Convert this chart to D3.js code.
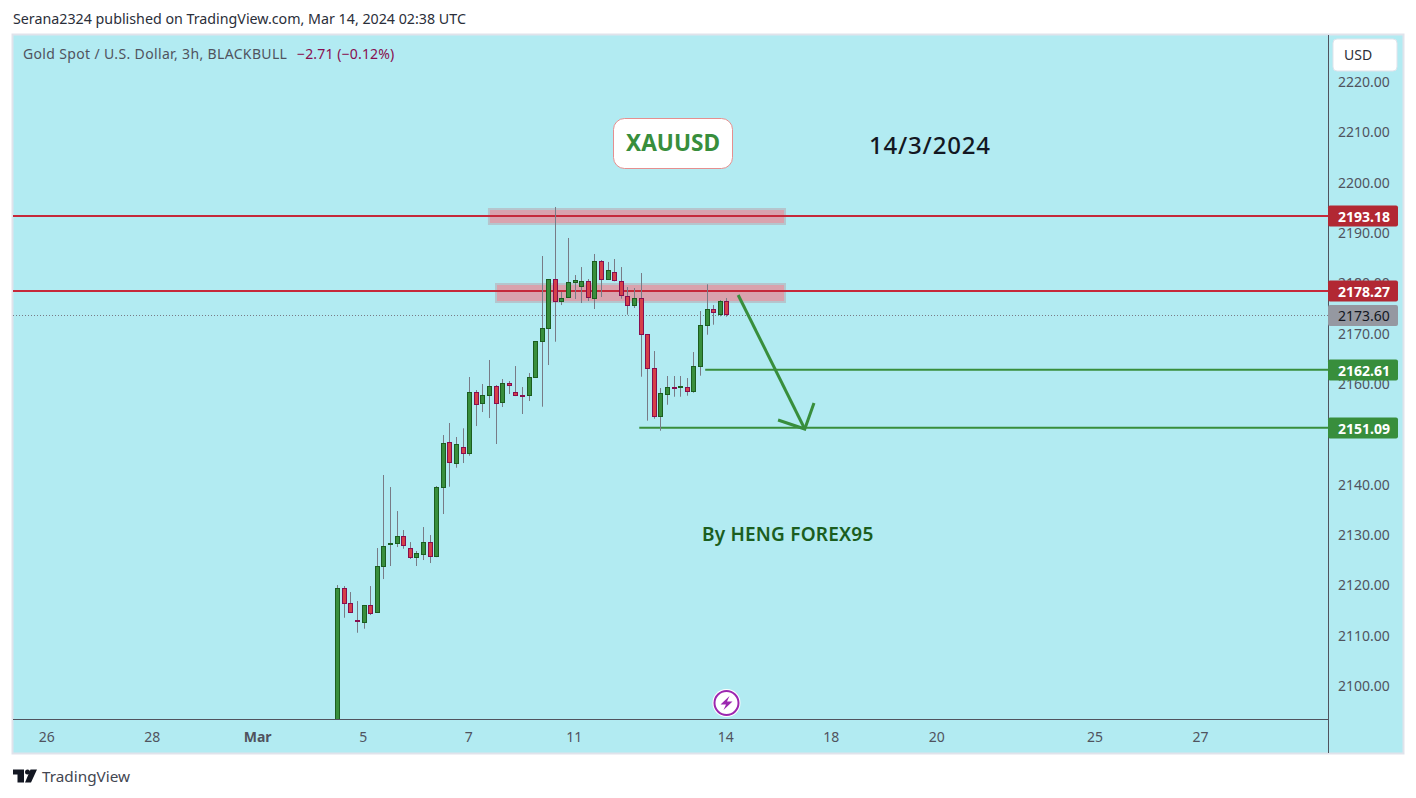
<!DOCTYPE html>
<html><head><meta charset="utf-8">
<script src="https://cdn.jsdelivr.net/npm/d3@7"></script>
<style>html,body{margin:0;padding:0;background:#fff;overflow:hidden}svg{display:block}text{font-family:"Noto Sans",sans-serif}</style>
</head><body><svg id="c" width="1416" height="798"></svg>
<script>
const opens=[2088,2119.2,2116.22,2112.85,2112.37,2115.83,2114.36,2123.5,2127.87,2128.07,2129.54,2127.15,2125.29,2125.88,2128.34,2125.48,2139.19,2148.21,2143.96,2147.22,2145.95,2158.15,2155.88,2157.47,2159.34,2156.08,2159.94,2158.15,2157.61,2157.47,2161.05,2168.2,2170.78,2180.6,2176.15,2176.94,2179.92,2179.13,2180.2,2176.75,2184.18,2180.56,2181.99,2180.2,2177.22,2175.24,2176.82,2169.67,2162.92,2153.3,2157.67,2159.14,2158.94,2159.14,2158.27,2163.23,2171.38,2174.64,2173.45,2176.23];
const closes=[2119.2,2116.15,2114.36,2112.57,2115.83,2114.16,2123.58,2127.55,2128.15,2129.54,2127.67,2125.29,2126.16,2128.34,2125.48,2139.27,2148.01,2144.16,2147.82,2145.95,2158.15,2155.68,2157.55,2159.34,2155.88,2159.94,2159.46,2157.47,2157.47,2161.13,2168.28,2170.86,2180.6,2176.15,2176.82,2180,2180.4,2180.2,2176.94,2184.18,2180.52,2182.39,2180.2,2177.22,2175.24,2176.82,2169.59,2162.84,2153.3,2157.95,2159.14,2159.06,2159.34,2158.27,2163.31,2171.46,2174.64,2173.96,2176.23,2173.6];
const highs=[2119.86,2119.66,2118.47,2116.68,2115.9,2119.66,2127.21,2141.72,2139.33,2134.56,2130.79,2128.4,2126.62,2131.38,2129.79,2139.53,2149.66,2152.05,2149.27,2151,2161.19,2158.6,2159.8,2164.57,2159.6,2160.79,2160.39,2163.37,2159.2,2161.98,2168.3,2185.23,2180.6,2194.97,2178.08,2188.81,2181.45,2183.04,2180.66,2185.63,2184.43,2184.04,2184.63,2183.04,2179.07,2178.87,2181.85,2169.67,2166.35,2159,2161.39,2161.39,2161.39,2160.99,2166.15,2174.3,2179.61,2175.49,2176.49,2176.88];
const lows=[2086,2113.36,2114.3,2110.38,2111.18,2113.9,2114.3,2121.05,2123.64,2127.41,2127.07,2125.03,2123.64,2124.83,2124.23,2125.4,2133.97,2139.39,2143.17,2144.1,2145.55,2151.45,2154.23,2153.04,2147.88,2155.23,2157.81,2157.4,2153.84,2156.42,2161,2155.29,2163.57,2168.2,2175.49,2176.9,2176.69,2175.89,2176.29,2174.7,2177.08,2180.5,2180.2,2176.75,2173.57,2174.9,2161.25,2152.51,2152.9,2150.52,2155.68,2157.27,2157.27,2157.47,2158.07,2161.45,2169.59,2171.58,2173.25,2173.17];
const priceTicks=[2100,2110,2120,2130,2140,2160,2170,2180,2190,2200,2210,2220];
const dateTickBars=[-44,-28,-12,4,20,36,59,75,91,115,131];
const dateTickLabels=["26","28","Mar","5","7","11","14","18","20","25","27"];
const tagPrices=[2193.18,2178.27,2173.60,2162.61,2151.09];
const tagKinds=["red","red","last","green","green"];
const zoneBarsFrom=[23,24.07], zoneBarsTo=[67.9,67.9], zonePriceTop=[2194.57,2179.67], zonePriceBottom=[2191.59,2176.09];
const lineBarsFrom=[-49.2,-49.2,55.8,45.8];
const linePrices=[2193.18,2178.27,2162.61,2151.09];
const lineKinds=["red","red","green","green"];
const arrowBars=[60.8,70.9], arrowPrices=[2177.48,2150.86];
const headBars=[66.85,70.9,72.3], headPrices=[2152.64,2150.86,2156.02];

const C={bg:"#b2ebf2",green:"#388e3c",greenDark:"#1b5e20",red:"#d63f48",redDark:"#880e4f",wick:"#787b86",lineRed:"#c5293a",tagRed:"#b22833",axis:"#50535e",txt:"#50535e"};
const L=13,R=1403,T=35,B=753,AX=1328,PB=719;
const svg=d3.select("#c");
const x=d3.scaleLinear().domain([0,59]).range([337.3,726.3]);
const y=d3.scaleLinear().domain([2100,2220]).range([685,81]);

svg.append("rect").attr("x",L-.5).attr("y",T-.5).attr("width",R-L+1).attr("height",B-T+1).attr("fill",C.bg).attr("stroke","#e0e3eb").attr("stroke-width",2);
svg.append("text").attr("x",13).attr("y",24).attr("font-size",14.25).attr("fill","#2a2e39").text("Serana2324 published on TradingView.com, Mar 14, 2024 02:38 UTC");

const defs=svg.append("defs");
defs.append("clipPath").attr("id","pane").append("rect").attr("x",L).attr("y",T).attr("width",AX-L).attr("height",PB-T);
const pane=svg.append("g").attr("clip-path","url(#pane)");

// zones
zoneBarsFrom.forEach((b,i)=>{
  pane.append("rect").attr("x",x(b)).attr("y",y(zonePriceTop[i])).attr("width",x(zoneBarsTo[i])-x(b)).attr("height",y(zonePriceBottom[i])-y(zonePriceTop[i]))
   .attr("fill","#d9a2ad").attr("stroke","#b5c5cd").attr("stroke-width",2);
});
// last price dotted
pane.append("line").attr("x1",L).attr("x2",AX).attr("y1",Math.round(y(2173.6))+.5).attr("y2",Math.round(y(2173.6))+.5).attr("stroke","#787b86").attr("stroke-width",1).attr("stroke-dasharray","1 2");
// lines
linePrices.forEach((p,i)=>{
  pane.append("line").attr("x1",x(lineBarsFrom[i])).attr("x2",AX).attr("y1",y(p)).attr("y2",y(p)).attr("stroke",lineKinds[i]==="red"?C.lineRed:C.green).attr("stroke-width",2);
});
// candles
const idx=d3.range(opens.length);
pane.selectAll("line.w").data(idx).join("line").attr("class","w")
 .attr("x1",i=>Math.round(x(i))+.5).attr("x2",i=>Math.round(x(i))+.5)
 .attr("y1",i=>y(highs[i])).attr("y2",i=>y(lows[i])).attr("stroke",C.wick).attr("stroke-width",1);
pane.selectAll("rect.b").data(idx).join("rect").attr("class","b")
 .attr("x",i=>Math.round(x(i))-1.5).attr("width",4)
 .attr("y",i=>Math.round(y(Math.max(opens[i],closes[i])))+.5)
 .attr("height",i=>Math.max(1,Math.round(y(Math.min(opens[i],closes[i])))-Math.round(y(Math.max(opens[i],closes[i])))-1))
 .attr("fill",i=>closes[i]>=opens[i]?C.green:C.red)
 .attr("stroke",i=>closes[i]>=opens[i]?C.greenDark:C.redDark).attr("stroke-width",1);
// arrow
const ln=d3.line().x(d=>d[0]).y(d=>d[1]);
pane.append("path").attr("d",ln(arrowBars.map((b,i)=>[x(b),y(arrowPrices[i])]))).attr("fill","none").attr("stroke",C.green).attr("stroke-width",3);
pane.append("path").attr("d",ln(headBars.map((b,i)=>[x(b),y(headPrices[i])]))).attr("fill","none").attr("stroke",C.green).attr("stroke-width",3);

// annotations
svg.append("rect").attr("x",613.5).attr("y",118.5).attr("width",119).attr("height",50).attr("rx",11).attr("fill","#fff").attr("stroke","#e58f8f");
svg.append("text").attr("x",673).attr("y",150.5).attr("text-anchor","middle").attr("font-size",22.6).attr("font-weight",700).attr("fill",C.green).text("XAUUSD");
svg.append("text").attr("x",869).attr("y",154).attr("font-size",24).attr("font-weight",500).attr("letter-spacing",.8).attr("fill","#131722").text("14/3/2024");
svg.append("text").attr("x",702).attr("y",541).attr("font-size",19).attr("font-weight",600).attr("letter-spacing",.2).attr("fill",C.greenDark).text("By HENG FOREX95");
// legend
svg.append("text").attr("x",23).attr("y",59).attr("font-size",14).attr("letter-spacing",.35).attr("fill",C.txt).text("Gold Spot / U.S. Dollar, 3h, BLACKBULL");
svg.append("text").attr("x",297).attr("y",59).attr("font-size",14).attr("letter-spacing",.15).attr("fill",C.redDark).text("−2.71 (−0.12%)");

// bolt marker
const bolt=svg.append("g").attr("transform",`translate(${Math.round(x(59))+.5},703)`);
bolt.append("circle").attr("r",14).attr("fill","#fff");
bolt.append("circle").attr("r",12).attr("fill","none").attr("stroke","#9c27b0").attr("stroke-width",2);
bolt.append("path").attr("d","M3,-7 L-6,1.5 L-0.5,1.5 L-3,7 L6,-1.5 L0.5,-1.5 Z").attr("fill","#9c27b0");

// axes
const py=svg.append("g").attr("transform",`translate(${AX},1)`).call(d3.axisRight(y).tickValues(priceTicks).tickSize(0).tickPadding(10).tickFormat(d3.format(".2f")));
py.select(".domain").remove();
py.selectAll("text").attr("font-size",14).attr("fill",C.txt).style("font-family",'"Noto Sans",sans-serif');

const xa=svg.append("g").attr("transform",`translate(-1,${PB})`).call(d3.axisBottom(x).tickValues(dateTickBars).tickSize(0).tickPadding(13).tickFormat((d,i)=>dateTickLabels[i]));
xa.select(".domain").remove();
xa.selectAll("text").attr("font-size",14).attr("fill",C.txt).style("font-family",'"Noto Sans",sans-serif').attr("font-weight",(d,i)=>dateTickLabels[i]==="Mar"?700:400);

svg.append("line").attr("x1",L).attr("x2",AX).attr("y1",PB+.5).attr("y2",PB+.5).attr("stroke",C.axis);
svg.append("line").attr("x1",AX+.5).attr("x2",AX+.5).attr("y1",T).attr("y2",B).attr("stroke",C.axis);

// USD
svg.append("rect").attr("x",1333).attr("y",39).attr("width",64).attr("height",32).attr("rx",4).attr("fill","#fff").attr("stroke","#e0e3eb");
svg.append("text").attr("x",1344).attr("y",60).attr("font-size",14).attr("fill","#2a2e39").text("USD");

// tags
tagPrices.forEach((p,i)=>{
  const k=tagKinds[i], cy=y(p);
  const fill=k==="red"?C.tagRed:k==="green"?C.green:"#9598a1";
  svg.append("rect").attr("x",AX).attr("y",Math.round(cy)-10.5+(k==="last"?.5:0)).attr("width",70).attr("height",21).attr("rx",2).attr("fill",fill);
  svg.append("text").attr("x",1338).attr("y",Math.round(cy)+5.5).attr("font-size",14).attr("font-weight",k==="last"?400:700).attr("fill",k==="last"?"#131722":"#fff").text(d3.format(".2f")(p));
});

// footer logo
const logo=svg.append("g").attr("transform","translate(13,769.5)");
logo.append("path").attr("d","M0,0H11V13H4.5V5H0Z M17.5,0H24L18,13H12Z").attr("fill","#131722");
logo.append("circle").attr("cx",14.5).attr("cy",2.5).attr("r",2.5).attr("fill","#131722");
svg.append("text").attr("x",42).attr("y",782).attr("font-size",15.3).attr("fill","#434651").text("TradingView");
</script></body></html>
